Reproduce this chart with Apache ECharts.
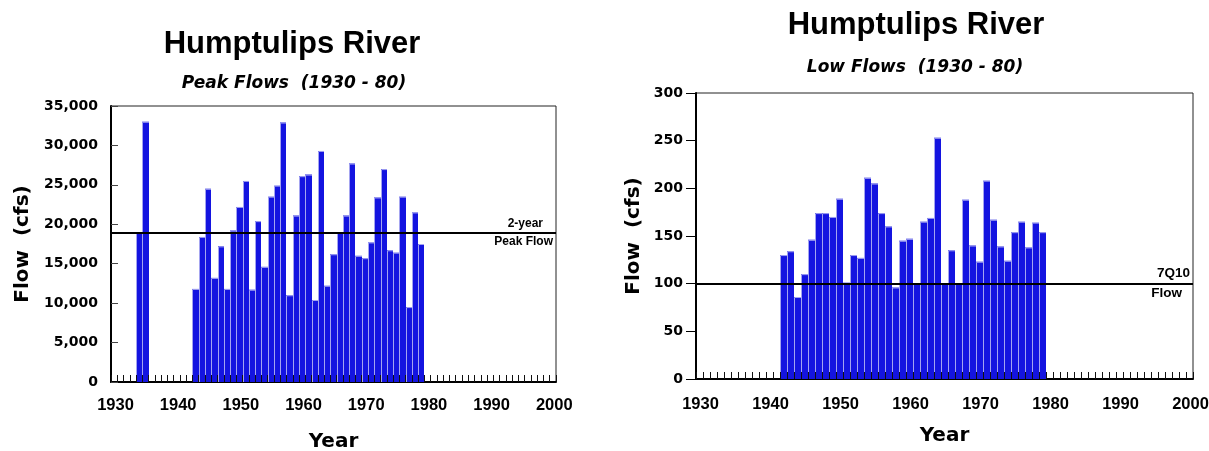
<!DOCTYPE html>
<html>
<head>
<meta charset="utf-8">
<script src="https://cdn.jsdelivr.net/npm/echarts@6/dist/echarts.min.js"></script>
<style>
  html, body { margin: 0; padding: 0; background: #fff; }
  #chart { width: 1209px; height: 451px; }
</style>
</head>
<body>
<div id="chart"></div>
<script>
const chartTitle = 'Humptulips River';
const peakSubtitle = 'Peak Flows  (1930 - 80)';
const lowSubtitle = 'Low Flows  (1930 - 80)';

// peak flows (cfs), one bar per year
const peakYears = [1934, 1935, 1943, 1944, 1945, 1946, 1947, 1948, 1949, 1950, 1951, 1952, 1953, 1954, 1955, 1956,
  1957, 1958, 1959, 1960, 1961, 1962, 1963, 1964, 1965, 1966, 1967, 1968, 1969, 1970, 1971, 1972, 1973, 1974,
  1975, 1976, 1977, 1978, 1979];
const peakFlows = [18900, 33000, 11800, 18400, 24500, 13200, 17200, 11800, 19200, 22200, 25500, 11700, 20400, 14600,
  23500, 24900, 32900, 11000, 21100, 26100, 26300, 10400, 29300, 12200, 16200, 18900, 21100, 27700, 16000, 15700,
  17700, 23400, 27000, 16700, 16400, 23500, 9500, 21500, 17500];
const twoYearPeak = 18900;

// low flows (cfs)
const lowYears = [1942, 1943, 1944, 1945, 1946, 1947, 1948, 1949, 1950, 1951, 1952, 1953, 1954, 1955, 1956, 1957,
  1958, 1959, 1960, 1961, 1962, 1963, 1964, 1965, 1966, 1967, 1968, 1969, 1970, 1971, 1972, 1973, 1974, 1975,
  1976, 1977, 1978, 1979];
const lowFlows = [130, 134, 86, 110, 146, 174, 174, 170, 189, 101, 130, 127, 211, 205, 174, 160, 96, 145, 147, 100,
  165, 169, 253, 100, 135, 100, 188, 140, 123, 208, 167, 139, 124, 154, 165, 138, 164, 154];
const sevenQ10 = 100;

const xMin = 1930;
const xMax = 2001;
const decadeTicks = [1930, 1940, 1950, 1960, 1970, 1980, 1990, 2000];

const barFill = '#1414e0';
const barEdge = '#a4a4f0';
const sansBold = { fontFamily: 'DejaVu Sans', fontWeight: 'bold', color: '#000' };
const helvBold = { fontFamily: 'Liberation Sans', fontWeight: 'bold', color: '#000' };

// each bar covers its year, from year to year + 1
function renderYearBar(params, api) {
  const year = api.value(0);
  const p0 = api.coord([year, 0]);
  const p1 = api.coord([year + 1, api.value(1)]);
  const x = Math.round(p0[0]);
  const w = Math.round(p1[0]) - x;
  const y = p1[1];
  const h = p0[1] - p1[1];
  return {
    type: 'group',
    children: [
      { type: 'rect', shape: { x, y, width: w, height: h }, style: { fill: barFill } },
      {
        type: 'polyline',
        shape: { points: [[x + 0.5, p0[1]], [x + 0.5, y + 0.5], [x + w, y + 0.5]] },
        style: { stroke: barEdge, lineWidth: 1, fill: null }
      }
    ]
  };
}

function labelAxis(gridIndex, nameGap, labelMargin) {
  return {
    type: 'value',
    gridIndex,
    position: 'bottom',
    min: xMin,
    max: xMax,
    interval: 10,
    name: 'Year',
    nameLocation: 'middle',
    nameGap,
    nameTextStyle: { ...sansBold, fontSize: 20 },
    axisLine: { show: true, lineStyle: { color: '#000', width: 2 } },
    axisTick: { show: false },
    splitLine: { show: false },
    axisLabel: {
      ...helvBold,
      fontSize: 16.5,
      margin: labelMargin,
      padding: [0, 0, 0, 9],
      customValues: decadeTicks,
      formatter: v => String(v)
    }
  };
}

function tickAxis(gridIndex) {
  return {
    type: 'value',
    gridIndex,
    position: 'bottom',
    min: xMin,
    max: xMax,
    interval: 1,
    z: 5,
    axisLine: { show: false },
    axisTick: { show: true, inside: true, length: 7, lineStyle: { color: '#111', width: 1 } },
    axisLabel: { show: false },
    splitLine: { show: false }
  };
}

function refLine(value, xAxisIndex, yAxisIndex, topText, bottomText, fontSize, topPad, bottomPad) {
  return {
    type: 'line',
    xAxisIndex,
    yAxisIndex,
    data: [],
    markLine: {
      silent: true,
      symbol: 'none',
      z: 10,
      lineStyle: { color: '#000', width: 2, type: 'solid' },
      label: { ...helvBold, fontSize, distance: 3 },
      data: [
        { yAxis: value, label: { formatter: topText, position: 'insideEndTop', padding: [0, topPad, 0, 0] } },
        { yAxis: value, label: { formatter: bottomText, position: 'insideEndBottom', padding: [0, bottomPad, 0, 0] } }
      ]
    }
  };
}

const chart = echarts.init(document.getElementById('chart'));

chart.setOption({
  backgroundColor: '#fff',
  animation: false,
  title: [
    { text: chartTitle, left: 287, top: 24, textAlign: 'center', textStyle: { ...helvBold, fontSize: 31 } },
    { text: peakSubtitle, left: 289, top: 70, textAlign: 'center',
      textStyle: { ...sansBold, fontStyle: 'italic', fontSize: 17 } },
    { text: chartTitle, left: 911, top: 5, textAlign: 'center', textStyle: { ...helvBold, fontSize: 31 } },
    { text: lowSubtitle, left: 910, top: 54, textAlign: 'center',
      textStyle: { ...sansBold, fontStyle: 'italic', fontSize: 17 } }
  ],
  grid: [
    { left: 111, top: 106, width: 445, height: 276, outerBoundsMode: 'none',
      show: true, borderColor: '#222', borderWidth: 1, backgroundColor: '#fff' },
    { left: 696, top: 93, width: 497, height: 286, outerBoundsMode: 'none',
      show: true, borderColor: '#222', borderWidth: 1, backgroundColor: '#fff' }
  ],
  xAxis: [labelAxis(0, 50, 15), tickAxis(0), labelAxis(1, 47, 17), tickAxis(1)],
  yAxis: [
    {
      type: 'value',
      gridIndex: 0,
      min: 0,
      max: 35000,
      interval: 5000,
      name: 'Flow  (cfs)',
      nameLocation: 'middle',
      nameGap: 78,
      nameTextStyle: { ...sansBold, fontSize: 20 },
      axisLine: { show: true, lineStyle: { color: '#000', width: 2 } },
      axisTick: { show: true, inside: true, length: 7, lineStyle: { color: '#444' } },
      axisLabel: { ...sansBold, fontSize: 14, margin: 13, formatter: v => v.toLocaleString('en-US') },
      splitLine: { show: false }
    },
    {
      type: 'value',
      gridIndex: 1,
      min: 0,
      max: 300,
      interval: 50,
      name: 'Flow  (cfs)',
      nameLocation: 'middle',
      nameGap: 52,
      nameTextStyle: { ...sansBold, fontSize: 20 },
      axisLine: { show: true, lineStyle: { color: '#000', width: 2 } },
      axisTick: { show: true, inside: false, length: 10, lineStyle: { color: '#000' } },
      axisLabel: { ...sansBold, fontSize: 14, margin: 13 },
      splitLine: { show: false }
    }
  ],
  series: [
    {
      type: 'custom',
      xAxisIndex: 0,
      yAxisIndex: 0,
      renderItem: renderYearBar,
      encode: { x: 0, y: 1 },
      data: peakYears.map((y, i) => [y, peakFlows[i]])
    },
    refLine(twoYearPeak, 0, 0, '2-year', 'Peak Flow', 12, 10, 0),
    {
      type: 'custom',
      xAxisIndex: 2,
      yAxisIndex: 1,
      renderItem: renderYearBar,
      encode: { x: 0, y: 1 },
      data: lowYears.map((y, i) => [y, lowFlows[i]])
    },
    refLine(sevenQ10, 2, 1, '7Q10', 'Flow', 13.5, 0, 8)
  ]
});
</script>
</body>
</html>
